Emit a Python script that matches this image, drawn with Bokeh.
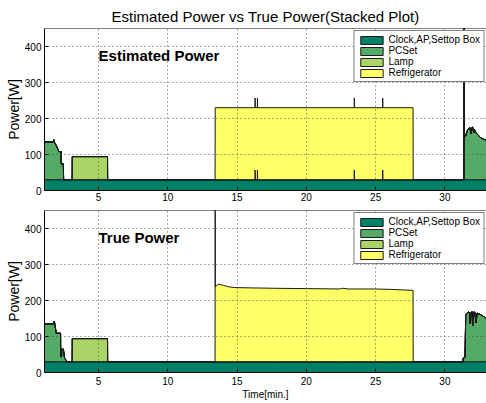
import numpy as np
from bokeh.plotting import figure
from bokeh.layouts import column
from bokeh.models import Range1d, Span, Label
from bokeh.embed import file_html
from bokeh.resources import INLINE

TITLE = "Estimated Power vs True Power(Stacked Plot)"
SERIES = ["Clock,AP,Settop Box", "PCSet", "Lamp", "Refrigerator"]
COLORS = ["#008066", "#55AA66", "#AAD466", "#FFFF66"]
X_TICKS = [5, 10, 15, 20, 25, 30]
Y_TICKS = [0, 100, 200, 300, 400]
Y_GRID = [100, 200, 300, 400]
X_LABEL = "Time[min.]"
Y_LABEL = "Power[W]"
PANEL_LABELS = ["Estimated Power", "True Power"]

# ---- Estimated power (time in minutes, power in W per layer) ----
est_t = [1.10, 1.74, 1.76, 1.80, 1.88, 2.15, 2.30, 2.31, 2.46, 2.48,
         3.09, 3.10, 5.65, 5.66, 13.41, 13.42, 16.29, 16.30, 16.31, 16.46,
         16.47, 16.48, 23.45, 23.46, 23.47, 25.50, 25.51, 25.52, 27.70, 27.71,
         31.37, 31.39, 31.41, 31.50, 31.60, 31.70, 31.80, 31.88, 31.93, 32.00,
         32.08, 32.13, 32.24, 32.38, 32.53, 32.67, 32.81, 33.00]
est_clock = [30, 30, 30, 30, 30, 30, 30, 30, 30, 30,
             30, 30, 30, 30, 30, 30, 30, 30, 30, 30,
             30, 30, 30, 30, 30, 30, 30, 30, 30, 30,
             30, 30, 30, 30, 30, 30, 30, 30, 30, 30,
             30, 30, 30, 30, 30, 30, 30, 30]
est_pc = [105, 105, 112, 105, 100, 78, 78, 44, 44, 0,
          0, 0, 0, 0, 0, 0, 0, 27, 0, 0,
          27, 0, 0, 27, 0, 0, 27, 0, 0, 0,
          0, 650, 118, 122, 135, 142, 145, 128, 144, 146,
          130, 140, 130, 125, 118, 115, 112, 110]
est_lamp = [0, 0, 0, 0, 0, 0, 0, 0, 0, 0,
            0, 64, 64, 0, 0, 0, 0, 0, 0, 0,
            0, 0, 0, 0, 0, 0, 0, 0, 0, 0,
            0, 0, 0, 0, 0, 0, 0, 0, 0, 0,
            0, 0, 0, 0, 0, 0, 0, 0]
est_fridge = [0, 0, 0, 0, 0, 0, 0, 0, 0, 0,
              0, 0, 0, 0, 0, 200, 200, 200, 200, 200,
              200, 200, 200, 200, 200, 200, 200, 200, 200, 0,
              0, 0, 0, 0, 0, 0, 0, 0, 0, 0,
              0, 0, 0, 0, 0, 0, 0, 0]

# ---- True power ----
tru_t = [1.10, 1.74, 1.76, 1.82, 1.95, 2.26, 2.27, 2.33, 2.34, 2.46,
         2.56, 2.66, 2.72, 3.09, 3.10, 5.65, 5.66, 13.41, 13.42, 13.43,
         13.60, 13.75, 14.00, 14.40, 14.80, 16.00, 17.60, 20.00, 22.40, 22.60,
         23.00, 24.80, 26.00, 27.20, 27.70, 27.71, 31.30, 31.32, 31.45, 31.50,
         31.60, 31.70, 31.78, 31.82, 31.86, 31.95, 32.00, 32.05, 32.15, 32.25,
         32.32, 32.50, 32.70, 32.90, 33.00]
tru_clock = [30, 30, 30, 30, 30, 30, 30, 30, 30, 30,
             30, 30, 30, 30, 30, 30, 30, 30, 30, 30,
             30, 30, 30, 30, 30, 30, 30, 30, 30, 30,
             30, 30, 30, 30, 30, 30, 30, 30, 30, 30,
             30, 30, 30, 30, 30, 30, 30, 30, 30, 30,
             30, 30, 30, 30, 30]
tru_pc = [105, 105, 113, 110, 79, 79, 14, 14, 35, 35,
          8, 5, 0, 0, 0, 0, 0, 0, 0, 0,
          0, 0, 0, 0, 0, 0, 0, 0, 0, 0,
          0, 0, 0, 0, 0, 0, 0, 10, 12, 130,
          135, 138, 136, 105, 135, 139, 100, 137, 138, 108,
          135, 132, 128, 122, 124]
tru_lamp = [0, 0, 0, 0, 0, 0, 0, 0, 0, 0,
            0, 0, 0, 0, 64, 64, 0, 0, 0, 0,
            0, 0, 0, 0, 0, 0, 0, 0, 0, 0,
            0, 0, 0, 0, 0, 0, 0, 0, 0, 0,
            0, 0, 0, 0, 0, 0, 0, 0, 0, 0,
            0, 0, 0, 0, 0]
tru_fridge = [0, 0, 0, 0, 0, 0, 0, 0, 0, 0,
              0, 0, 0, 0, 0, 0, 0, 0, 700, 208,
              214, 215, 212, 208, 206, 205, 204, 203, 202, 204,
              202, 202, 201, 199, 198, 0, 0, 0, 0, 0,
              0, 0, 0, 0, 0, 0, 0, 0, 0, 0,
              0, 0, 0, 0, 0]

FONT = "Liberation Sans"


def make_panel(t, layers, panel_label, top, bottom, with_title):
    p = figure(frame_width=442, frame_height=162,
               x_range=Range1d(1.1, 33.0), y_range=Range1d(0, 450),
               output_backend="svg", toolbar_location=None,
               min_border_left=44, min_border_right=0,
               min_border_top=top, min_border_bottom=bottom,
               title=TITLE if with_title else None)
    tt = np.asarray(t, dtype=float)
    lower = np.zeros(len(tt))
    for name, color, vals in zip(SERIES, COLORS, layers):
        upper = lower + np.asarray(vals, dtype=float)
        xs = np.concatenate([tt, tt[::-1]])
        ys = np.concatenate([upper, lower[::-1]])
        p.patch(xs, ys, fill_color=color, line_color="#1a1a1a",
                line_width=1, legend_label=name)
        lower = upper

    p.outline_line_color = None
    p.add_layout(Span(location=450, dimension="width",
                      line_color="black", line_width=1))

    for ax in (p.xaxis[0], p.yaxis[0]):
        ax.axis_line_color = "black"
        ax.major_tick_in = 4
        ax.major_tick_out = 0
        ax.minor_tick_line_color = None
        ax.major_label_text_font = FONT
        ax.major_label_text_font_size = "10px"
        ax.major_label_text_color = "black"
        ax.axis_label_text_font = FONT
        ax.axis_label_text_font_style = "normal"
        ax.axis_label_text_color = "black"
    p.xaxis.ticker = X_TICKS
    p.yaxis.ticker = Y_TICKS
    p.xaxis.major_label_standoff = 2
    p.yaxis.major_label_standoff = 3
    p.yaxis.axis_label = Y_LABEL
    p.yaxis.axis_label_text_font_size = "14px"
    p.yaxis.axis_label_standoff = 0

    p.xgrid.ticker = X_TICKS
    p.ygrid.ticker = Y_GRID
    p.grid.grid_line_color = "#555555"
    p.grid.grid_line_dash = "1 3"
    p.grid.grid_line_width = 1
    p.grid.level = "guide"

    p.add_layout(Label(x=5, y=375, text=panel_label, text_font=FONT,
                       text_font_size="15px", text_font_style="bold",
                       text_baseline="middle", text_color="black"))

    lg = p.legend[0]
    lg.location = "top_right"
    lg.margin = 2
    lg.padding = 3
    lg.spacing = 0
    lg.glyph_width = 28
    lg.glyph_height = 10
    lg.label_height = 10
    lg.label_standoff = 3
    lg.label_text_font = FONT
    lg.label_text_font_size = "10px"
    lg.label_text_color = "black"
    lg.border_line_color = "black"
    lg.border_line_width = 1
    lg.background_fill_alpha = 1.0
    return p


p1 = make_panel(est_t, [est_clock, est_pc, est_lamp, est_fridge],
                PANEL_LABELS[0], 28, 14, True)
p1.title.text_font = FONT
p1.title.text_font_size = "15px"
p1.title.text_font_style = "normal"
p1.title.align = "center"
p1.title.standoff = 7
p1.title.text_color = "black"

p2 = make_panel(tru_t, [tru_clock, tru_pc, tru_lamp, tru_fridge],
                PANEL_LABELS[1], 6, 31, False)
p2.xaxis.axis_label = X_LABEL
p2.xaxis.axis_label_text_font_size = "10px"
p2.xaxis.axis_label_standoff = 1
p2.xaxis.major_label_standoff = 4

layout = column(p1, p2, spacing=0)
open("out.html", "w").write(file_html(layout, INLINE))
